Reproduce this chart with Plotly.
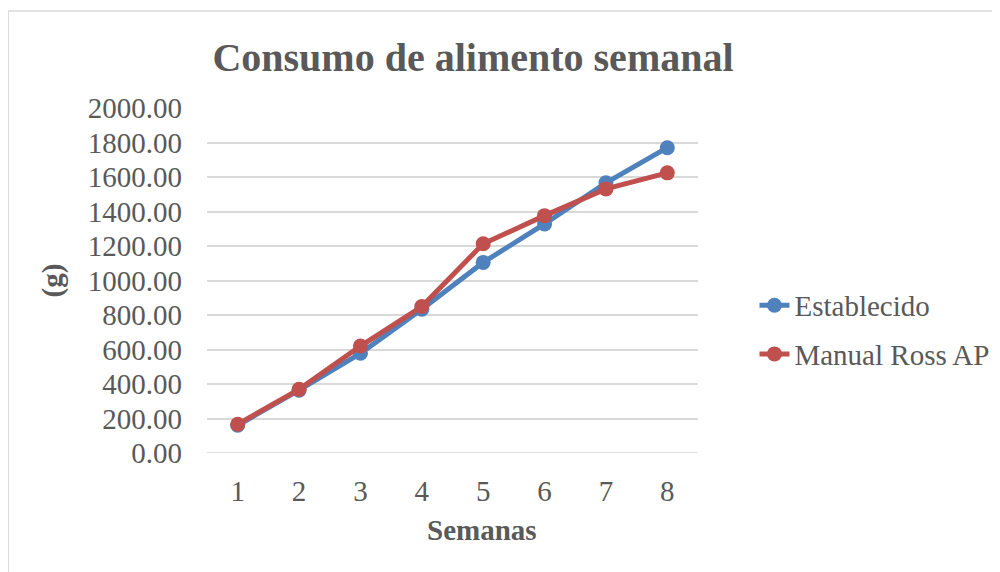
import plotly.graph_objects as go

semanas = [1, 2, 3, 4, 5, 6, 7, 8]
establecido = [161, 364, 578, 834, 1105, 1328, 1566, 1770]
manual_ross = [167, 369, 620, 849, 1213, 1376, 1531, 1624]

GRAY = "#595959"
SERIF = "Liberation Serif, Times New Roman, serif"

fig = go.Figure()
fig.add_trace(go.Scatter(x=semanas, y=establecido, name="Establecido", mode="lines+markers",
                         line=dict(color="#4F81BD", width=5), marker=dict(size=15),
                         legendgroup="a"))
fig.add_trace(go.Scatter(x=semanas, y=manual_ross, name="Manual Ross AP", mode="lines+markers",
                         line=dict(color="#C0504D", width=5), marker=dict(size=15),
                         legendgroup="b"))

# page body adds an 8px offset, margins account for it
fig.update_layout(
    width=1000, height=572,
    margin=dict(l=199, r=310, t=100, b=127),
    paper_bgcolor="white", plot_bgcolor="white",
    font=dict(family=SERIF, size=29, color=GRAY),
    title=dict(text="<b>Consumo de alimento semanal</b>", x=0.465, xanchor="center",
               y=0.914, yanchor="middle", yref="container",
               font=dict(family=SERIF, size=40, color=GRAY)),
    legend=dict(x=1.115, xanchor="left", y=0.357, yanchor="middle",
                traceorder="grouped", tracegroupgap=8,
                font=dict(family=SERIF, size=29, color=GRAY)),
    xaxis=dict(range=[0.5, 8.5], dtick=1, tick0=1, showgrid=False, zeroline=False,
               showline=False, ticklabelstandoff=18),
    yaxis=dict(range=[0, 2000], dtick=200, tickformat=".2f", showgrid=True,
               gridcolor="#D9D9D9", gridwidth=1.5, zeroline=False, showline=False,
               ticklabelstandoff=24,
               title=dict(text="<b>(g)</b>", standoff=16, font=dict(size=29))),
    shapes=[dict(type="rect", xref="paper", yref="paper",
                 x0=-0.405, x1=1.64, y0=-0.4, y1=1.281,
                 line=dict(color="#D9D9D9", width=1.5), layer="below")],
)
# x title sits right of centre in the original, so it is an annotation
fig.add_annotation(text="<b>Semanas</b>", xref="paper", yref="paper", x=0.56, y=-0.223,
                   xanchor="center", yanchor="middle", showarrow=False,
                   font=dict(family=SERIF, size=29, color=GRAY))
# gridline at zero drawn like the others
fig.add_hline(y=0, line=dict(color="#D9D9D9", width=1.5), layer="below")

fig.write_html("out.html")
